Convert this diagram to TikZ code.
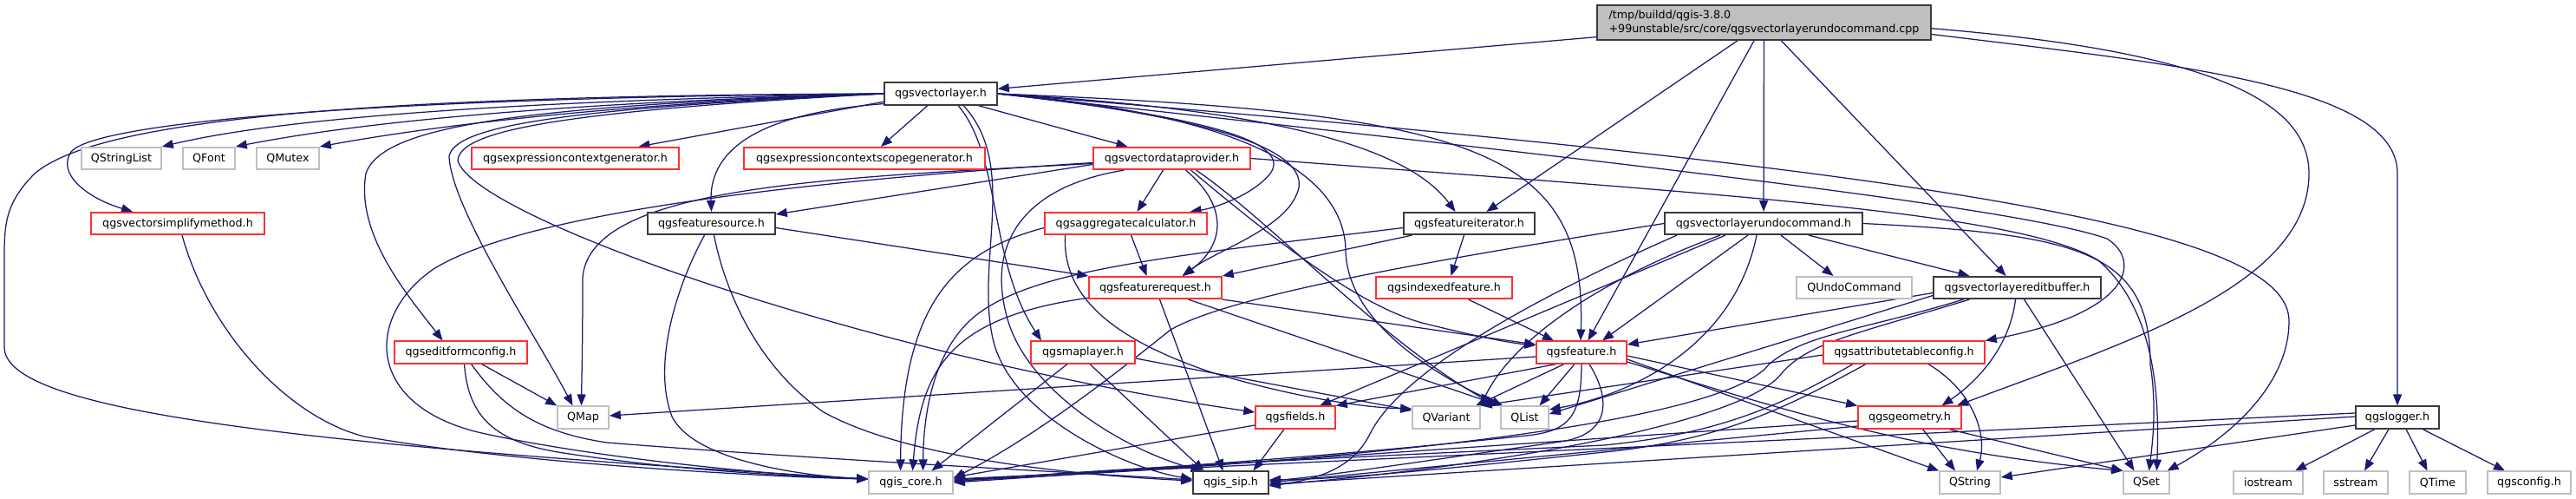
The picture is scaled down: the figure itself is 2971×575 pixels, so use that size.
\documentclass[tikz,border=0pt]{standalone}
\usepackage{fontspec}
\setmainfont{DejaVu Sans}
\usetikzlibrary{arrows.meta}
\definecolor{edgecol}{HTML}{191970}
\definecolor{redb}{HTML}{FF3030}
\definecolor{blkb}{HTML}{3A3A3A}
\definecolor{grayb}{HTML}{BFBFBF}
\definecolor{cppfill}{HTML}{BFBFBF}
\pgfdeclarelayer{bg}
\pgfsetlayers{bg,main}
\tikzset{
 nbox/.style={draw, rectangle, fill=white, line width=1.6pt, inner sep=0pt, minimum height=25.5pt, font=\fontsize{12.7pt}{15pt}\selectfont, anchor=center},
 redbox/.style={nbox, draw=redb},
 blkbox/.style={nbox, draw=blkb},
 graybox/.style={nbox, draw=grayb},
 dep/.style={draw=edgecol, line width=1.25pt, -{Triangle[length=13pt,width=10pt]}},
}
\begin{document}
\begin{tikzpicture}[x=1pt,y=-1pt]
\useasboundingbox (0,0) rectangle (2971,575);
% nodes
\node[blkbox, fill=cppfill, align=left, minimum width=385pt, minimum height=40pt, font=\fontsize{12.7pt}{16pt}\selectfont] (cpp) at (2034.5,26) {/tmp/buildd/qgis-3.8.0\\+99unstable/src/core/qgsvectorlayerundocommand.cpp};
\node[blkbox, minimum width=130pt] (vl) at (1085,108) {qgsvectorlayer.h};
\node[graybox, minimum width=92pt] (qstringlist) at (140,182.5) {QStringList};
\node[graybox, minimum width=60pt] (qfont) at (241,182.5) {QFont};
\node[graybox, minimum width=72pt] (qmutex) at (332,182.5) {QMutex};
\node[redbox, minimum width=239pt] (ecg) at (663.5,182.5) {qgsexpressioncontextgenerator.h};
\node[redbox, minimum width=278pt] (ecsg) at (997,182.5) {qgsexpressioncontextscopegenerator.h};
\node[redbox, minimum width=181pt] (vdp) at (1351.5,182.5) {qgsvectordataprovider.h};
\node[redbox, minimum width=200pt] (vsm) at (205,257.5) {qgsvectorsimplifymethod.h};
\node[blkbox, minimum width=147pt] (fs) at (820.5,257.5) {qgsfeaturesource.h};
\node[redbox, minimum width=187pt] (agg) at (1298.5,257.5) {qgsaggregatecalculator.h};
\node[blkbox, minimum width=151pt] (fi) at (1694.5,257.5) {qgsfeatureiterator.h};
\node[blkbox, minimum width=228pt] (vluc) at (2034,257.5) {qgsvectorlayerundocommand.h};
\node[redbox, minimum width=153pt] (fr) at (1332.5,331.5) {qgsfeaturerequest.h};
\node[redbox, minimum width=157pt] (idx) at (1665.5,331.5) {qgsindexedfeature.h};
\node[graybox, minimum width=133pt] (qundo) at (2138.5,331.5) {QUndoCommand};
\node[blkbox, minimum width=193pt] (veb) at (2326.5,331.5) {qgsvectorlayereditbuffer.h};
\node[redbox, minimum width=153pt] (efc) at (531.5,406) {qgseditformconfig.h};
\node[redbox, minimum width=120pt] (ml) at (1249,406) {qgsmaplayer.h};
\node[redbox, minimum width=104pt] (feat) at (1824,406) {qgsfeature.h};
\node[redbox, minimum width=186pt] (atc) at (2196,406) {qgsattributetableconfig.h};
\node[graybox, minimum width=59pt] (qmap) at (672.5,481) {QMap};
\node[redbox, minimum width=92pt] (fields) at (1494,481) {qgsfields.h};
\node[graybox, minimum width=78pt] (qvariant) at (1668,481) {QVariant};
\node[graybox, minimum width=55pt] (qlist) at (1758.5,481) {QList};
\node[redbox, minimum width=119pt] (geom) at (2202.5,481) {qgsgeometry.h};
\node[blkbox, minimum width=96pt] (logger) at (2765,481) {qgslogger.h};
\node[graybox, minimum width=97pt] (core) at (1050.5,556) {qgis\_core.h};
\node[blkbox, minimum width=87pt] (sip) at (1419.5,556) {qgis\_sip.h};
\node[graybox, minimum width=70pt] (qstring) at (2272,556) {QString};
\node[graybox, minimum width=53pt] (qset) at (2475.5,556) {QSet};
\node[graybox, minimum width=80pt] (iostream) at (2616,556) {iostream};
\node[graybox, minimum width=74pt] (sstream) at (2717,556) {sstream};
\node[graybox, minimum width=65pt] (qtime) at (2811.5,556) {QTime};
\node[graybox, minimum width=96pt] (qgsconfig) at (2917,556) {qgsconfig.h};

\begin{pgfonlayer}{bg}
% cpp
\draw[dep] (cpp) -- (vl);
\draw[dep] (cpp) -- (fi);
\draw[dep] (cpp) -- (feat);
\draw[dep] (cpp) -- (vluc);
\draw[dep] (cpp) -- (veb);
\draw[dep] (cpp.-2) .. controls (2560,60) and (2663,120) .. (2663,200) .. controls (2663,330) and (2450,395) .. (geom.14);
\draw[dep] (cpp.-4) .. controls (2520,75) and (2765,100) .. (2765,200) -- (logger.north);
% vl
\draw[dep] (vl.west) .. controls (600,116) and (330,135) .. (qstringlist.north east);
\draw[dep] (vl.west) .. controls (650,118) and (420,140) .. (qfont.north east);
\draw[dep] (vl.west) .. controls (700,120) and (500,145) .. (qmutex.north east);
\draw[dep] (vl.188) -- ([xshift=73pt]ecg.north);
\draw[dep] ([xshift=-15pt]vl.south) -- ([xshift=19pt]ecsg.north);
\draw[dep] ([xshift=43pt]vl.south) -- ([xshift=-51pt]vdp.north);
\draw[dep] (vl.west) .. controls (450,112) and (110,140) .. (82,175) .. controls (65,200) and (100,228) .. ([xshift=-52pt]vsm.north);
\draw[dep] (vl.west) .. controls (400,110) and (110,140) .. (40,200) .. controls (5,235) and (5,260) .. (5,300) -- (5,400) .. controls (5,470) and (300,510) .. ([yshift=4pt]core.west);
\draw[dep] (vl.west) .. controls (600,122) and (440,145) .. (422,200) .. controls (410,270) and (470,340) .. ([xshift=-21pt]efc.north);
\draw[dep] (vl.west) .. controls (650,125) and (525,145) .. (518,180) .. controls (520,240) and (620,390) .. ([xshift=-12pt]qmap.north);
\draw[dep] (vl.west) .. controls (650,128) and (530,150) .. (528,185) .. controls (545,250) and (1000,410) .. ([yshift=6pt]fields.west);
\draw[dep] (vl.190) .. controls (880,130) and (818,170) .. (fs.north);
\draw[dep] ([xshift=20pt]vl.south) .. controls (1155,180) and (1140,300) .. ([xshift=-48pt]ml.north);
\draw[dep] ([xshift=26pt]vl.south) .. controls (1175,190) and (1125,300) .. (1145,390) .. controls (1165,480) and (1300,540) .. ([yshift=4pt]sip.west);
\draw[dep] (vl.east) .. controls (1400,135) and (1490,165) .. (1465,200) .. controls (1445,225) and (1400,240) .. ([xshift=74pt]agg.north);
\draw[dep] (vl.east) .. controls (1450,140) and (1515,185) .. (1495,225) .. controls (1478,265) and (1400,290) .. ([xshift=32pt]fr.north);
\draw[dep] (vl.east) .. controls (1450,125) and (1620,165) .. ([xshift=-16pt]fi.north);
\draw[dep] (vl.east) .. controls (1700,130) and (1830,170) .. ([xshift=-1pt]feat.north);
\draw[dep] (vl.east) .. controls (1480,135) and (1552,220) .. (1552,290) .. controls (1555,370) and (1650,430) .. ([xshift=3pt]qlist.north west);
\draw[dep] (vl.east) .. controls (2300,200) and (2640,270) .. (2640,370) .. controls (2640,450) and (2560,510) .. ([xshift=24pt]qset.north);
\draw[dep] (vl.east) .. controls (1900,190) and (2330,240) .. (2430,275) .. controls (2470,300) and (2460,360) .. (atc.north east);
% vdp
\draw[dep] ([yshift=-6pt]vdp.west) .. controls (950,205) and (680,215) .. (672,320) .. controls (672,400) and (671,430) .. ([xshift=-2pt]qmap.north);
\draw[dep] ([yshift=-7pt]vdp.west) -- ([yshift=-3pt]fs.north east);
\draw[dep] ([yshift=-5pt]vdp.west) .. controls (900,210) and (600,248) .. (500,310) .. controls (420,365) and (420,470) .. (560,500) .. controls (700,530) and (900,548) .. ([yshift=4pt]core.west);
\draw[dep] ([xshift=-55pt]vdp.south) .. controls (1180,215) and (1140,280) .. (1160,360) .. controls (1180,450) and (1300,520) .. ([xshift=-33pt]sip.north);
\draw[dep] ([xshift=-10pt]vdp.south) -- ([xshift=13pt]agg.north);
\draw[dep] ([xshift=16pt]vdp.south) .. controls (1420,240) and (1410,285) .. ([xshift=31pt]fr.north);
\draw[dep] ([xshift=22pt]vdp.south) .. controls (1450,260) and (1560,350) .. (1640,372) .. controls (1700,387) and (1740,395) .. ([yshift=8pt]feat.west);
\draw[dep] ([xshift=28pt]vdp.south) .. controls (1460,250) and (1600,400) .. ([xshift=-4pt]qlist.north west);
\draw[dep] (vdp.east) .. controls (2000,225) and (2330,245) .. (2420,300) .. controls (2490,360) and (2490,470) .. ([xshift=12pt]qset.north);
% vsm
\draw[dep] ([xshift=5pt]vsm.south) .. controls (240,380) and (330,480) .. (420,503) .. controls (600,535) and (900,550) .. ([yshift=4pt]core.west);
% efc
\draw[dep] ([xshift=24pt]efc.south) -- (qmap.north west);
\draw[dep] ([xshift=4pt]efc.south) .. controls (540,480) and (570,510) .. (650,522) .. controls (800,545) and (950,550) .. ([yshift=4pt]core.west);
\draw[dep] ([xshift=12pt]efc.south) .. controls (580,470) and (620,498) .. (700,510) .. controls (950,530) and (1250,545) .. ([yshift=3pt]sip.west);
% fs
\draw[dep] ([yshift=-5pt]fs.east) -- (fr.north west);
\draw[dep] ([xshift=-8pt]fs.south) .. controls (780,330) and (752,420) .. (775,480) .. controls (800,530) and (920,548) .. ([yshift=4pt]core.west);
\draw[dep] ([xshift=3pt]fs.south) .. controls (835,330) and (870,420) .. (950,475) .. controls (1050,530) and (1250,548) .. ([yshift=2pt]sip.west);
% ml
\draw[dep] ([xshift=-18pt]ml.south) -- ([xshift=24pt]core.north);
\draw[dep] ([xshift=8pt]ml.south) -- ([xshift=-31pt]sip.north);
\draw[dep] ([yshift=-7pt]ml.east) -- ([yshift=8pt]qvariant.west);
% agg
\draw[dep] ([xshift=6pt]agg.south) -- ([xshift=-10pt]fr.north);
\draw[dep] ([yshift=-5pt]agg.west) .. controls (1100,290) and (1040,350) .. ([xshift=-12pt]core.north);
\draw[dep] ([xshift=-70pt]agg.south) .. controls (1225,340) and (1280,390) .. (1400,430) .. controls (1500,460) and (1580,470) .. ([yshift=10pt]qvariant.west);
% fi
\draw[dep] ([xshift=-66pt]fi.south) -- (fr.north east);
\draw[dep] ([xshift=-6pt]fi.south) -- ([xshift=8pt]idx.north);
\draw[dep] ([yshift=-5pt]fi.west) .. controls (1350,295) and (1200,310) .. (1130,360) .. controls (1075,400) and (1065,480) .. ([xshift=14pt]core.north);
% idx
\draw[dep] ([xshift=28pt]idx.south) -- ([xshift=-32pt]feat.north);
% fr
\draw[dep] (fr.south east) -- ([yshift=9pt]feat.west);
\draw[dep] ([xshift=38pt]fr.south) -- (qlist.north west);
\draw[dep] ([xshift=5pt]fr.south) -- ([xshift=-9pt]sip.north);
\draw[dep] ([xshift=-76pt,yshift=2pt]fr.south) .. controls (1100,365) and (1062,420) .. ([xshift=2pt]core.north);
% feat
\draw[dep] ([yshift=-5pt]feat.west) -- ([yshift=2pt]qmap.east);
\draw[dep] ([xshift=-29pt]feat.south) -- (fields.north east);
\draw[dep] ([xshift=-20pt]feat.south) -- ([xshift=34pt]qvariant.north);
\draw[dep] ([xshift=-8pt]feat.south) -- ([xshift=17pt]qlist.north);
\draw[dep] (feat.south) .. controls (1824,480) and (1810,497) .. (1760,502) .. controls (1500,530) and (1250,545) .. ([yshift=3pt]core.east);
\draw[dep] ([xshift=9pt]feat.south) .. controls (1858,460) and (1858,500) .. (1800,509) .. controls (1650,530) and (1520,550) .. ([yshift=2pt]sip.east);
\draw[dep] ([yshift=-8pt]feat.east) -- (qstring.north west);
\draw[dep] ([yshift=-4pt]feat.east) -- (geom.north west);
\draw[dep] ([yshift=-11pt]feat.east) .. controls (2050,470) and (2200,520) .. (qset.north west);
% fields
\draw[dep] ([yshift=-9pt]fields.west) -- ([yshift=6pt]core.east);
\draw[dep] ([xshift=-13pt]fields.south) -- ([xshift=26pt]sip.north);
% geom
\draw[dep] ([xshift=15pt]geom.south) -- ([xshift=-17pt]qstring.north);
\draw[dep] ([xshift=45pt]geom.south) -- (qset.north west);
\draw[dep] ([yshift=-4pt]geom.west) -- (core.east);
\draw[dep] ([yshift=-10pt]geom.west) -- (sip.east);
% atc
\draw[dep] ([xshift=28pt]atc.south) .. controls (2275,450) and (2292,500) .. ([xshift=8pt]qstring.north);
\draw[dep] ([yshift=-3pt]atc.west) -- (qvariant.north east);
\draw[dep] ([xshift=-59pt]atc.south) .. controls (2050,470) and (1980,500) .. (1850,513) .. controls (1600,525) and (1300,538) .. ([yshift=1pt]core.east);
\draw[dep] ([xshift=-44pt]atc.south) .. controls (2060,470) and (1990,505) .. (1860,520) .. controls (1650,542) and (1550,552) .. ([yshift=3pt]sip.east);
% logger
\draw[dep] ([yshift=5pt]logger.west) -- ([yshift=4pt]core.east);
\draw[dep] ([yshift=1pt]logger.west) -- ([yshift=-2pt]sip.east);
\draw[dep] ([yshift=-9pt]logger.west) -- ([yshift=6pt]qstring.east);
\draw[dep] ([xshift=-26pt]logger.south) -- ([xshift=31pt]iostream.north);
\draw[dep] ([xshift=-10pt]logger.south) -- ([xshift=10pt]sstream.north);
\draw[dep] ([xshift=10pt]logger.south) -- ([xshift=-12pt]qtime.north);
\draw[dep] ([xshift=29pt]logger.south) -- ([xshift=-28pt]qgsconfig.north);
% veb
\draw[dep] ([xshift=-2pt]veb.south) .. controls (2318,400) and (2280,440) .. ([xshift=37pt]geom.north);
\draw[dep] ([xshift=8pt]veb.south) -- ([xshift=-14pt]qset.north);
\draw[dep] ([yshift=-6pt]veb.west) -- ([yshift=9pt]feat.east);
\draw[dep] ([yshift=-9pt]veb.west) -- ([yshift=4pt]qlist.east);
\draw[dep] ([xshift=-62pt]veb.south) .. controls (2150,380) and (2080,385) .. (2040,420) .. controls (1990,485) and (1600,530) .. ([yshift=2pt]core.east);
\draw[dep] ([xshift=-55pt]veb.south) .. controls (2140,385) and (2085,395) .. (2055,430) .. controls (2010,490) and (1700,540) .. ([yshift=-3pt]sip.east);
% vluc
\draw[dep] ([xshift=20pt]vluc.south) -- ([xshift=-24pt]qundo.north);
\draw[dep] ([xshift=52pt]vluc.south) -- ([xshift=-55pt]veb.north);
\draw[dep] ([xshift=-18pt]vluc.south) -- ([xshift=24pt]feat.north);
\draw[dep] ([xshift=-44pt]vluc.south) -- ([xshift=28pt]fields.north);
\draw[dep] ([xshift=-50pt]vluc.south) .. controls (1850,320) and (1745,390) .. (qvariant.north east);
\draw[dep] ([xshift=-8pt]vluc.south) .. controls (2000,400) and (1880,455) .. ([yshift=9pt]qlist.east);
\draw[dep] (vluc.east) .. controls (2400,270) and (2480,290) .. (2480,420) .. controls (2488,470) and (2482,515) .. ([xshift=3pt]qset.north);
\draw[dep] (vluc.west) .. controls (1650,300) and (1420,340) .. (1350,380) .. controls (1300,420) and (1200,500) .. ([yshift=5pt]core.east);
\draw[dep] ([xshift=-100pt]vluc.south) .. controls (1800,330) and (1620,420) .. (1580,500) .. controls (1560,540) and (1520,552) .. ([yshift=-4pt]sip.east);
\end{pgfonlayer}
\end{tikzpicture}
\end{document}
